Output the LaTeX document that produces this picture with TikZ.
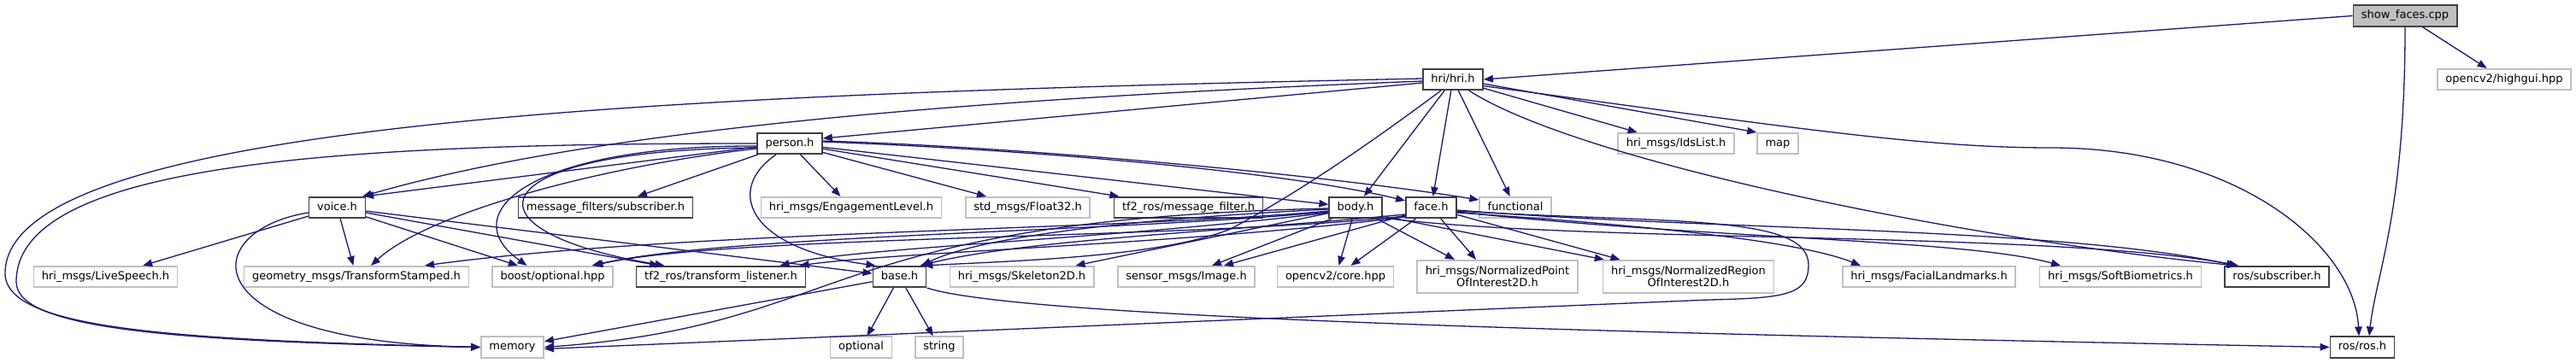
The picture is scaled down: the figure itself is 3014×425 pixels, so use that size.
\documentclass[tikz,border=0pt]{standalone}
\usepackage{fontspec}
\setmainfont{DejaVu Sans}
\usetikzlibrary{arrows.meta}
\definecolor{edgec}{HTML}{191970}
\definecolor{gsev}{HTML}{BFBFBF}
\definecolor{gtf}{HTML}{404040}
\begin{document}
\begin{tikzpicture}[x=1pt,y=-1pt,
 nb/.style={draw=gtf, line width=1.6pt, fill=white, font=\fontsize{13}{14}\selectfont, inner xsep=9.5pt, inner ysep=0pt, minimum height=24.5pt, text height=9.6pt, text depth=2.8pt},
 ng/.style={nb, draw=gsev},
 ngtwo/.style={draw=gsev, line width=1.6pt, fill=white, font=\fontsize{13}{14}\selectfont, inner xsep=9.5pt, inner ysep=0pt, minimum height=38.5pt, align=center},
 e/.style={draw=edgec, line width=1.3pt, -{Triangle[length=11pt,width=8.5pt]}}]
\fill[white] (0,0) rectangle (3014,425);
\useasboundingbox (0,0) rectangle (3014,425);
% row 0
\node[nb, fill=gsev] (S) at (2814,18.5) {show\_faces.cpp};
% row 1
\node[nb] (H) at (1700,93) {hri/hri.h};
\node[ng] (hg) at (2930,93) {opencv2/highgui.hpp};
% row 2
\node[nb] (P) at (924,168) {person.h};
\node[ng] (ids) at (1961,168) {hri\_msgs/IdsList.h};
\node[ng] (map) at (2080,168) {map};
% row 3
\node[nb] (V) at (394.5,243) {voice.h};
\node[nb] (mfs) at (708.5,243) {message\_filters/subscriber.h};
\node[ng] (EL) at (996,243) {hri\_msgs/EngagementLevel.h};
\node[ng] (F32) at (1202.5,243) {std\_msgs/Float32.h};
\node[nb] (mf) at (1390.5,243) {tf2\_ros/message\_filter.h};
\node[nb] (B) at (1586,243) {body.h};
\node[nb] (F) at (1674.5,243) {face.h};
\node[ng] (fun) at (1773,243) {functional};
% row 4
\node[ng] (LS) at (123.5,324) {hri\_msgs/LiveSpeech.h};
\node[ng] (TS) at (417,324) {geometry\_msgs/TransformStamped.h};
\node[ng] (bo) at (646.5,324) {boost/optional.hpp};
\node[nb] (tl) at (843.5,324) {tf2\_ros/transform\_listener.h};
\node[nb] (base) at (1052.5,324) {base.h};
\node[ng] (sk) at (1195.5,324) {hri\_msgs/Skeleton2D.h};
\node[ng] (img) at (1388,324) {sensor\_msgs/Image.h};
\node[ng] (cv) at (1562.5,324) {opencv2/core.hpp};
\node[ngtwo] (np) at (1752,324) {hri\_msgs/NormalizedPoint\\OfInterest2D.h};
\node[ngtwo] (nr) at (1975.5,324) {hri\_msgs/NormalizedRegion\\OfInterest2D.h};
\node[ng] (fl) at (2257,324) {hri\_msgs/FacialLandmarks.h};
\node[ng] (sb) at (2481,324) {hri\_msgs/SoftBiometrics.h};
\node[nb] (rs) at (2664,324) {ros/subscriber.h};
% row 5
\node[ng] (mem) at (599.5,406.5) {memory};
\node[ng] (opt) at (1007.5,406.5) {optional};
\node[ng] (str) at (1099,406.5) {string};
\node[nb] (rr) at (2764,406.5) {ros/ros.h};

% show_faces.cpp
\draw[e] (S.west) -- (H.east);
\draw[e] (S) -- (hg);
\draw[e] (S.south) .. controls (2814,250) and (2780,320) .. ([xshift=8pt]rr.north);
% hri.h
\draw[e] (H.-12) .. controls (2100,150) and (2250,173) .. (2400,173) .. controls (2620,173) and (2755,290) .. ([xshift=-4pt]rr.north);
\draw[e] (H.-35) .. controls (1850,190) and (2300,280) .. ([xshift=-47pt]rs.north);
\draw[e] (H) -- (ids);
\draw[e] (H.-8) -- (map.north west);
\draw[e] (H) -- (B);
\draw[e] (H) -- (F);
\draw[e] (H) -- (fun);
\draw[e] ([xshift=-14pt]H.south) .. controls (1600,170) and (1520,225) .. (1440,268) .. controls (1360,300) and (1200,305) .. ([xshift=28pt]base.north);
\draw[e] ([yshift=-4pt]H.west) -- ([yshift=6pt]P.east);
\draw[e] ([yshift=-2pt]H.west) .. controls (1150,115) and (700,150) .. ([xshift=-4pt]V.north east);
\draw[e] ([yshift=1pt]H.west) .. controls (800,110) and (6,140) .. (6,320) .. controls (6,385) and (200,398) .. (mem.west);
% person.h
\draw[e] (P.west) .. controls (400,168) and (19,190) .. (19,330) .. controls (19,385) and (200,400) .. (mem.west);
\draw[e] ([yshift=-4pt]P.west) -- ([xshift=-2pt]V.north east);
\draw[e] ([yshift=-6pt]P.west) .. controls (700,195) and (500,250) .. ([xshift=17pt]TS.north);
\draw[e] ([yshift=-3pt]P.west) .. controls (620,170) and (530,250) .. ([xshift=-30pt]bo.north);
\draw[e] ([yshift=-5pt]P.west) .. controls (560,175) and (530,270) .. ([xshift=-66pt]tl.north);
\draw[e] (P) -- (mfs);
\draw[e] (P) -- (EL);
\draw[e] ([xshift=-16pt]P.south) .. controls (850,220) and (870,290) .. ([xshift=-28pt]base.north);
\draw[e] (P) -- (F32);
\draw[e] (P) -- (mf);
\draw[e] (P) -- (B);
\draw[e] ([yshift=2pt]P.east) .. controls (1200,175) and (1500,200) .. ([yshift=8pt]F.west);
\draw[e] ([yshift=3pt]P.east) .. controls (1200,172) and (1550,205) .. ([yshift=9pt]fun.west);
% voice.h
\draw[e] ([yshift=-6pt]V.west) .. controls (230,270) and (220,400) .. (mem.west);
\draw[e] (V) -- (LS);
\draw[e] (V) -- (TS);
\draw[e] (V) -- (bo);
\draw[e] (V) -- (tl);
\draw[e] (V) -- (base);
% body.h
\draw[e] ([yshift=-2pt]B.west) .. controls (1350,255) and (1150,275) .. ([xshift=26pt]base.north);
\draw[e] ([yshift=-4pt]B.west) .. controls (1300,270) and (800,270) .. ([xshift=80pt]TS.north);
\draw[e] ([yshift=-5pt]B.west) .. controls (1300,272) and (850,275) .. ([xshift=46pt]bo.north);
\draw[e] ([yshift=-6pt]B.west) .. controls (1300,280) and (1000,290) .. ([xshift=69pt]tl.north);
\draw[e] ([yshift=-1pt]B.west) .. controls (950,258) and (1000,380) .. (mem.east);
\draw[e] (B) -- (sk);
\draw[e] ([xshift=4pt]B.south west) -- ([xshift=30pt]img.north);
\draw[e] (B) -- ([xshift=4pt]cv.north);
\draw[e] (B) -- ([xshift=-50pt]np.north);
\draw[e] ([yshift=-10pt]B.east) -- ([xshift=2pt]nr.north west);
\draw[e] ([yshift=-12pt]B.east) .. controls (1850,285) and (2400,270) .. ([xshift=-45pt]rs.north);
% face.h
\draw[e] ([yshift=-8pt]F.west) .. controls (1450,270) and (1200,280) .. ([xshift=24pt]base.north);
\draw[e] ([yshift=-10pt]F.west) .. controls (1400,280) and (850,275) .. ([xshift=48pt]bo.north);
\draw[e] ([yshift=-11pt]F.west) .. controls (1400,285) and (1050,295) .. ([xshift=92pt]tl.north);
\draw[e] ([yshift=-9pt]F.west) -- ([xshift=44pt]img.north);
\draw[e] (F) -- ([xshift=18pt]cv.north);
\draw[e] (F) -- ([xshift=-25pt]np.north);
\draw[e] (F) -- ([xshift=-80pt]nr.north);
\draw[e] ([yshift=-6pt]F.east) .. controls (1900,262) and (2100,280) .. ([xshift=-80pt]fl.north);
\draw[e] ([yshift=-5pt]F.east) .. controls (2000,280) and (2300,280) .. ([xshift=-70pt]sb.north);
\draw[e] ([yshift=-3pt]F.east) .. controls (2000,270) and (2400,265) .. ([xshift=-48pt]rs.north);
\draw[e] ([yshift=-4pt]F.east) .. controls (1950,262) and (2116,250) .. (2116,310) .. controls (2116,345) and (2090,349) .. (2000,351) -- ([yshift=-2pt]mem.east);
% base.h
\draw[e] (base) -- (mem);
\draw[e] (base.south east) .. controls (1200,375) and (2000,392) .. (rr.west);
\draw[e] (base) -- (opt);
\draw[e] (base) -- (str);
\end{tikzpicture}
\end{document}
